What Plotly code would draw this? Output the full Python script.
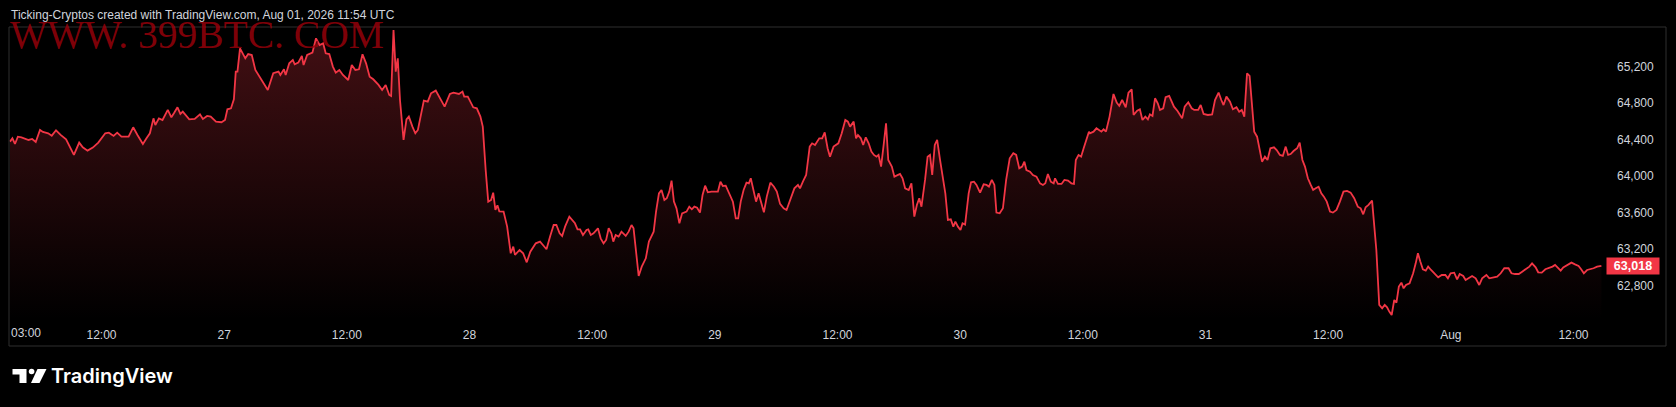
import pandas as pd
import plotly.graph_objects as go

# ---------------- data ----------------
start = pd.Timestamp("2026-07-26 00:00")

# minutes since 2026-07-26 00:00 and close prices (BTC)
min_a = [183,197,212,229,250,271,292,313,334,359,376,407,428,453,480,512,533,558,589,610,638,669,701,742,763,791,812,837,879,906,931,963,984,1004,1025,1036,1057,1078,1109,1130,1145,1166,1183,1197,1235,1267,1298,1315,1340,1361,1392,1424,1445,1459,1480,1497,1508,1518,1533,1550,1564,1581,1602,1623,1654,1696,1728,1759,1770,1791,1801,1822,1843,1854,1875,1896,1906,1927,1958,1979,2000,2021,2036,2057,2078,2095,2116,2137,2168,2189,2210,2231,2252,2273,2294,2315,2346,2367,2388,2409,2420,2434,2447,2459,2472,2493,2510,2524,2545,2562,2577,2612,2635,2654,2682,2703,2734,2765,2786,2818,2839,2849,2870,2902,2923,2944,2958,2975,2990,3007,3019,3032,3044,3055,3080,3101,3122,3137,3147,3174,3195,3216,3237,3269,3294]
price_a = [64379,64415,64353,64433,64426,64412,64397,64408,64375,64507,64485,64470,64444,64503,64452,64404,64331,64233,64368,64317,64280,64313,64368,64470,64477,64441,64477,64433,64433,64536,64452,64353,64415,64470,64634,64561,64634,64616,64726,64645,64689,64755,64682,64707,64623,64627,64678,64627,64660,64653,64598,64591,64616,64733,64744,64843,65146,65146,65401,65347,65292,65339,65328,65164,65073,64945,65128,65146,65109,65171,65109,65237,65274,65226,65244,65317,65219,65328,65354,65511,65438,65456,65347,65339,65201,65135,65164,65109,65054,65219,65164,65171,65336,65237,65091,65062,65000,64945,65000,64890,64879,65602,65146,65292,64835,64397,64623,64653,64543,64470,64507,64828,64817,64908,64938,64872,64762,64901,64916,64901,64927,64872,64872,64755,64744,64653,64543,64068,63721,63739,63820,63630,63681,63615,63612,63447,63155,63228,63137,63191,63155,63056,63173,63264,63283]

min_b = [3311,3332,3353,3374,3390,3409,3424,3441,3466,3487,3499,3514,3529,3546,3567,3577,3592,3608,3634,3650,3667,3682,3697,3713,3724,3738,3755,3772,3797,3814,3831,3843,3856,3873,3891,3915,3933,3961,3975,3992,4007,4024,4038,4053,4066,4080,4095,4112,4128,4154,4170,4185,4200,4216,4233,4248,4263,4279,4300,4321,4338,4353,4367,4384,4405,4426,4443,4457,4472,4489,4506,4520,4531,4546,4562,4577,4594,4608,4625,4646,4667,4684,4703,4724,4741,4761,4787,4808,4820,4837,4856,4877,4891,4908,4933,4950,4965,4982,4996,5017,5045,5065,5086,5101,5114,5135,5149,5160,5177,5191,5206,5223,5239,5254,5269,5281,5296,5311,5325,5338,5359,5374,5390,5407,5422,5437,5458,5474,5491,5506,5520,5533,5554,5569,5583,5596,5611,5625,5642,5659,5673,5688,5705,5720,5732,5747,5762,5774,5789,5810,5824,5841,5856,5877,5898,5915,5929,5946,5961,5973,5992,6011,6030,6051,6072,6089,6107,6124,6137,6149,6170,6187,6208,6229,6246,6260,6275,6292,6309,6317,6334,6355,6372,6393,6413,6428,6439,6455,6470,6485,6502,6516]
price_b = [63246,63199,63338,63465,63465,63374,63345,63447,63557,63502,63484,63418,63418,63356,63411,63418,63356,63374,63429,63319,63264,63301,63429,63374,63283,63356,63338,63392,63345,63392,63465,63429,63228,62906,63009,63100,63283,63392,63612,63812,63849,63739,63758,63831,63951,63721,63648,63484,63593,63612,63666,63637,63666,63655,63601,63794,63896,63823,63831,63827,63831,63940,63893,63896,63812,63721,63538,63538,63721,63849,63929,63922,63977,63849,63721,63812,63685,63604,63776,63929,63885,63831,63696,63648,63630,63739,63867,63904,63867,63940,64013,64324,64360,64342,64415,64415,64481,64306,64214,64324,64360,64470,64616,64598,64543,64598,64415,64452,64415,64342,64426,64360,64269,64233,64214,64233,64105,64342,64580,64178,64105,63995,64006,64024,63977,63867,63849,63922,63557,63685,63758,63666,63959,64214,64233,64013,64342,64397,64178,63959,63812,63520,63528,63447,63502,63447,63411,63484,63469,63812,63933,63940,63904,63820,63911,63904,63885,63959,63904,63601,63593,63648,63959,64196,64251,64233,64086,64105,64159,64068,64050,64013,63995,63922,63904,63922,64024,63940,63922,63977,63915,63915,63959,63951,63922,63915,64178,64233,64214,64306,64415,64488]

min_c = [6522,6543,6560,6574,6589,6602,6616,6637,6660,6679,6694,6711,6732,6748,6767,6778,6799,6815,6830,6847,6862,6874,6889,6904,6920,6933,6952,6966,6987,7015,7036,7063,7078,7099,7119,7134,7157,7172,7189,7214,7239,7256,7277,7293,7306,7323,7344,7361,7382,7398,7413,7428,7444,7459,7476,7486,7503,7518,7532,7549,7564,7581,7602,7618,7637,7654,7671,7685,7700,7717,7738,7753,7769,7784,7801,7818,7832,7847,7864,7880,7895,7912,7931,7948,7969,7989,8010,8031,8052,8073,8094,8111,8126,8140,8157,8178,8189,8203,8220,8237,8252,8266,8279,8293,8308,8321,8335,8350,8363,8377,8398,8419,8434,8447,8461,8476,8493,8507,8524,8545,8566,8587,8608,8623,8639,8660,8677,8692,8713,8727,8744,8765,8786,8807,8824,8849,8866,8887,8912,8933,8954,8979,8996,9017,9039,9059,9084,9101,9117,9138,9153,9174,9195,9216,9237,9252,9268,9285,9300,9315,9331,9348,9369,9390,9405,9421,9440,9457,9478,9499,9524]
price_c = [64470,64488,64525,64507,64488,64514,64488,64653,64901,64806,64770,64835,64755,64916,64952,64671,64718,64733,64616,64653,64623,64678,64660,64854,64799,64726,64744,64865,64879,64762,64715,64634,64762,64810,64744,64726,64726,64780,64682,64671,64678,64835,64916,64835,64780,64872,64817,64733,64755,64707,64726,64653,65128,65098,64653,64488,64433,64287,64159,64214,64178,64306,64317,64287,64233,64222,64324,64233,64243,64276,64306,64368,64178,64105,63977,63904,63849,63867,63885,63812,63776,63721,63612,63601,63630,63721,63831,63838,63820,63758,63666,63648,63582,63659,63685,63732,63520,63191,62589,62552,62589,62563,62516,62479,62643,62614,62790,62833,62771,62808,62826,62936,63045,63155,63064,62980,62965,63009,62972,62928,62892,62917,62917,62881,62936,62943,62870,62928,62906,62863,62881,62906,62881,62808,62881,62917,62881,62892,62899,62936,62991,62991,62936,62928,62928,62954,62991,63009,63045,63001,62947,62943,62980,62991,63009,63027,62991,62965,63001,63016,63027,63053,63034,63016,62980,62936,62972,62980,62991,63009,63018]

tick_times = ["2026-07-26 12:00", "2026-07-27 00:00", "2026-07-27 12:00", "2026-07-28 00:00",
              "2026-07-28 12:00", "2026-07-29 00:00", "2026-07-29 12:00", "2026-07-30 00:00",
              "2026-07-30 12:00", "2026-07-31 00:00", "2026-07-31 12:00", "2026-08-01 00:00",
              "2026-08-01 12:00"]
tick_labels = ["12:00", "27", "12:00", "28", "12:00", "29", "12:00", "30", "12:00", "31",
               "12:00", "Aug", "12:00"]
first_label = "03:00"
price_ticks = [62800, 63200, 63600, 64000, 64400, 64800, 65200]
last_price = 63018
title_text = "Ticking-Cryptos created with TradingView.com, Aug 01, 2026 11:54 UTC"
watermark = "WWW. 399BTC. COM"

assert len(min_a) == len(price_a) and len(min_b) == len(price_b) and len(min_c) == len(price_c)

minutes = min_a + min_b + min_c
prices = price_a + price_b + price_c
times = start + pd.to_timedelta(minutes, unit="min")

x_range = [start + pd.Timedelta(minutes=177), start + pd.Timedelta(minutes=9551)]
y_range = [62424, 65635]

# ---------------- layout helpers (pixel -> paper) ----------------
W, H = 1676, 407
ML, MR, MT, MB = 9, 70, 27, 87
PW, PH = W - ML - MR, H - MT - MB


def px(x):
    return (x - ML) / PW


def py(y):
    return (H - MB - y) / PH


RED = "#f23645"
TXT = "#d1d4dc"
FRAME = "#2e2e2e"

fig = go.Figure()
fig.add_trace(go.Scatter(
    x=times, y=prices, mode="lines",
    line=dict(color=RED, width=1.8),
    fill="tozeroy",
    fillgradient=dict(type="vertical",
                      colorscale=[[0, "rgba(242,54,69,0)"], [1, "rgba(242,54,69,0.28)"]],
                      start=y_range[0], stop=y_range[1]),
    hoverinfo="skip", showlegend=False,
))

shapes = [
    dict(type="rect", xref="paper", yref="paper", x0=px(9), x1=px(1666), y0=py(346), y1=py(27),
         line=dict(color=FRAME, width=1), fillcolor="rgba(0,0,0,0)", layer="above"),
    # TradingView logo
    dict(type="path", xref="paper", yref="paper",
         path="M {} {} L {} {} L {} {} L {} {} L {} {} L {} {} Z".format(
             px(12.5), py(369), px(26.5), py(369), px(26.5), py(383),
             px(19.5), py(383), px(19.5), py(374.5), px(12.5), py(374.5)),
         fillcolor="#ffffff", line=dict(width=0)),
    dict(type="circle", xref="paper", yref="paper", x0=px(28.8), x1=px(34.4), y0=py(374.3), y1=py(368.7),
         fillcolor="#ffffff", line=dict(width=0)),
    dict(type="path", xref="paper", yref="paper",
         path="M {} {} L {} {} L {} {} L {} {} Z".format(
             px(37.5), py(369), px(46.5), py(369), px(39.5), py(383), px(31.0), py(383)),
         fillcolor="#ffffff", line=dict(width=0)),
]

annotations = [
    dict(text=watermark, xref="paper", yref="paper", x=px(8), y=py(35), xanchor="left", yanchor="middle",
         showarrow=False, font=dict(family="Liberation Serif", size=39.5, color="rgba(150,0,10,0.85)")),
    dict(text=title_text, xref="paper", yref="paper", x=px(9), y=py(15), xanchor="left", yanchor="middle",
         showarrow=False, font=dict(family="Liberation Sans", size=12, color=TXT)),
    dict(text=first_label, xref="paper", yref="paper", x=px(8.5), y=py(333), xanchor="left", yanchor="middle",
         showarrow=False, font=dict(family="Liberation Sans", size=12, color=TXT)),
    dict(text=f"{last_price:,}", xref="paper", yref="y", x=px(1633.5), y=last_price,
         xanchor="center", yanchor="middle", showarrow=False,
         bgcolor=RED, borderpad=1, width=50, height=14,
         font=dict(family="Liberation Sans", size=12.5, color="#ffffff", weight=600)),
    dict(text="TradingView", xref="paper", yref="paper", x=px(48.5), y=py(376), xanchor="left", yanchor="middle",
         showarrow=False, font=dict(family="Inter", size=20, color="#ffffff", weight=600)),
]

fig.update_layout(
    width=W, height=H,
    margin=dict(l=ML, r=MR, t=MT, b=MB, pad=0),
    paper_bgcolor="#000000", plot_bgcolor="#000000",
    showlegend=False, hovermode=False,
    shapes=shapes, annotations=annotations,
    xaxis=dict(type="date", range=x_range, tickvals=tick_times, ticktext=tick_labels,
               showgrid=False, zeroline=False, showline=False, ticks="",
               tickfont=dict(family="Liberation Sans", size=12, color=TXT),
               ticklabelstandoff=6, fixedrange=True),
    yaxis=dict(range=y_range, side="right", tickvals=price_ticks, tickformat=",",
               showgrid=False, zeroline=False, showline=False, ticks="",
               tickfont=dict(family="Liberation Sans", size=12, color=TXT),
               ticklabelstandoff=10, fixedrange=True),
)

fig.write_html("out.html", config={"displayModeBar": False},
               post_script="document.body.style.margin='0px';document.body.style.background='#000';")
